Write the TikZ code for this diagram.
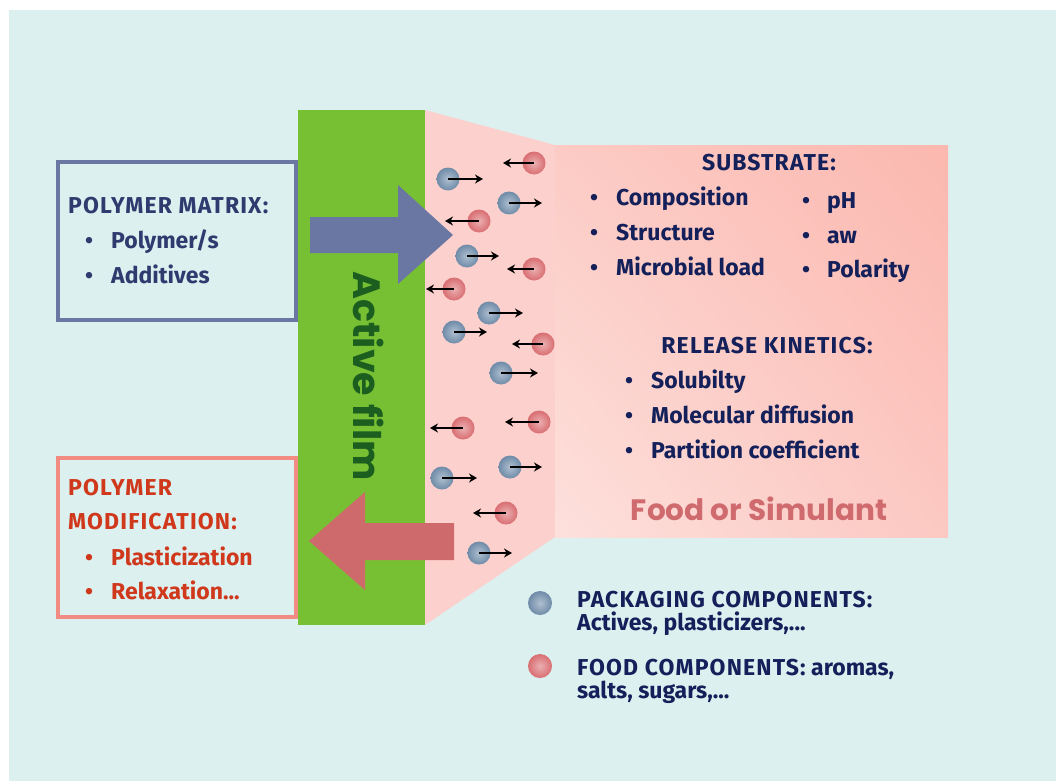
\documentclass[tikz,border=0pt]{standalone}
\usepackage{fontspec}
\setmainfont{Fira Sans}
\newfontfamily\popf{Poppins}
\usetikzlibrary{arrows.meta,shadings}
\definecolor{bgc}{HTML}{DCF0F0}
\definecolor{filmg}{HTML}{77C033}
\definecolor{filmtxt}{HTML}{1C5E1F}
\definecolor{trap}{HTML}{FCD0CC}
\definecolor{pinkLL}{HTML}{FDE0DC}
\definecolor{pinkUR}{HTML}{FBB8AF}
\definecolor{pinkUL}{HTML}{FCCBC5}
\definecolor{pinkLR}{HTML}{FCC8C2}
\definecolor{boxblue}{HTML}{6A77A3}
\definecolor{boxred}{HTML}{F28B82}
\definecolor{arrred}{HTML}{CF6A6C}
\definecolor{navy}{HTML}{13205A}
\definecolor{navyb}{HTML}{2E3B6E}
\definecolor{redtxt}{HTML}{D0381C}
\definecolor{foodtxt}{HTML}{CF6B6E}
\definecolor{pblue}{HTML}{6F8BA8}
\definecolor{pred}{HTML}{D96E72}
\newcommand\bitem[2][26pt]{\makebox[#1][l]{\textbullet}#2}
\newcommand\capsp[1]{{\addfontfeature{LetterSpace=5}#1}}
\begin{document}
\begin{tikzpicture}[x=1pt,y=-1pt,
  txt/.style={anchor=base west, inner sep=0pt, font=\bfseries\fontsize{23}{27}\selectfont, text=navy},
  ptb/.style={circle, inner sep=0pt, minimum size=23pt, shading=radial, inner color=pblue!55!white, outer color=pblue},
  ptr/.style={circle, inner sep=0pt, minimum size=23pt, shading=radial, inner color=pred!55!white, outer color=pred},
  parr/.style={line width=2pt, -{Stealth[length=8pt,width=9pt]}},
  frame/.style={line width=4pt}]
\useasboundingbox (0,0) rectangle (1056,781);
\fill[white] (0,0) rectangle (1056,781);
\fill[bgc] (9,10) rectangle (1056,781);
% film and food
\fill[filmg] (298,110) rectangle (425,625);
\fill[trap] (425,110) -- (555,145) -- (555,537) -- (425,625) -- cycle;
\shade[shading=bilinear interpolation, lower left=pinkLL, upper right=pinkUR, upper left=pinkUL, lower right=pinkLR] (555,145) rectangle (948,537);
% boxes
\draw[frame, boxblue] (58,162) rectangle (296,320);
\draw[frame, boxred] (58,458) rectangle (296,617);
% big arrows
\fill[boxblue] (310,217) -- (398,217) -- (398,185) -- (453,235) -- (398,284) -- (398,253) -- (310,253) -- cycle;
\fill[arrred] (454,523) -- (365,523) -- (365,492) -- (309,541) -- (365,590) -- (365,560) -- (454,560) -- cycle;
% Active film
\node[rotate=-90, inner sep=0pt, font=\popf\bfseries\fontsize{38}{44}\selectfont, text=filmtxt] (film) at (369,376) {Active film};
% particles
\foreach \n/\x/\y/\e in {b1/448/179/483, b2/509/203/542, b3/467/256/499, b4/489/313/523, b5/454/332/487, b6/501/373/538, b7/442/478/477, b8/510/467/542, b9/479/553/512}{
  \node[ptb] (\n) at (\x,\y) {};
  \draw[parr] (\n.center) -- (\e,\y);
}
\foreach \n/\x/\y/\e in {r1/534/163/503, r2/479/221/445, r3/534/269/507, r4/454/289/426, r5/543/344/512, r6/463/428/430, r7/539/422/505, r8/506/513/473}{
  \node[ptr] (\n) at (\x,\y) {};
  \draw[parr] (\n.center) -- (\e,\y);
}
% polymer matrix box
\node[txt, text=navyb] (pm) at (68,213) {\capsp{POLYMER MATRIX:}};
\node[txt, text=navyb] (pm1) at (85,248) {\bitem{Polymer/s}};
\node[txt, text=navyb] (pm2) at (85,283) {\bitem{Additives}};
% polymer modification box
\node[txt, text=redtxt] (mod) at (68,495) {\capsp{POLYMER}};
\node[txt, text=redtxt] (mod0) at (68,529) {\capsp{MODIFICATION:}};
\node[txt, text=redtxt] (mod1) at (85,565) {\bitem{Plasticization}};
\node[txt, text=redtxt] (mod2) at (85,599) {\bitem{Relaxation...}};
% substrate
\node[txt, anchor=base] (sub) at (769,170) {\capsp{SUBSTRATE:}};
\node[txt] (s1) at (590,205) {\bitem{Composition}};
\node[txt] (s2) at (590,240) {\bitem{Structure}};
\node[txt] (s3) at (590,275) {\bitem{Microbial load}};
\node[txt] (s4) at (802,208) {\bitem[25pt]{pH}};
\node[txt] (s5) at (802,243) {\bitem[25pt]{aw}};
\node[txt] (s6) at (802,277) {\bitem[25pt]{Polarity}};
\node[txt, anchor=base] (rk) at (767,353) {\capsp{RELEASE KINETICS:}};
\node[txt] (k1) at (625,388) {\bitem{Solubilty}};
\node[txt] (k2) at (625,423) {\bitem{Molecular diffusion}};
\node[txt] (k3) at (625,458) {\bitem{Partition coefficient}};
\node[anchor=base, inner sep=0pt, font=\popf\bfseries\fontsize{29.5}{34}\selectfont, text=foodtxt] (food) at (759,520) {Food or Simulant};
% legend
\node[ptb, minimum size=24pt] (lb) at (540,603) {};
\node[ptr, minimum size=24pt] (lr) at (540,666) {};
\node[txt] (l1) at (577,607) {\capsp{PACKAGING COMPONENTS:}};
\node[txt] (l2) at (577,630) {Actives, plasticizers,...};
\node[txt] (l3) at (577,675) {\capsp{FOOD COMPONENTS:} aromas,};
\node[txt] (l4) at (577,698) {salts, sugars,...};
\end{tikzpicture}
\end{document}
